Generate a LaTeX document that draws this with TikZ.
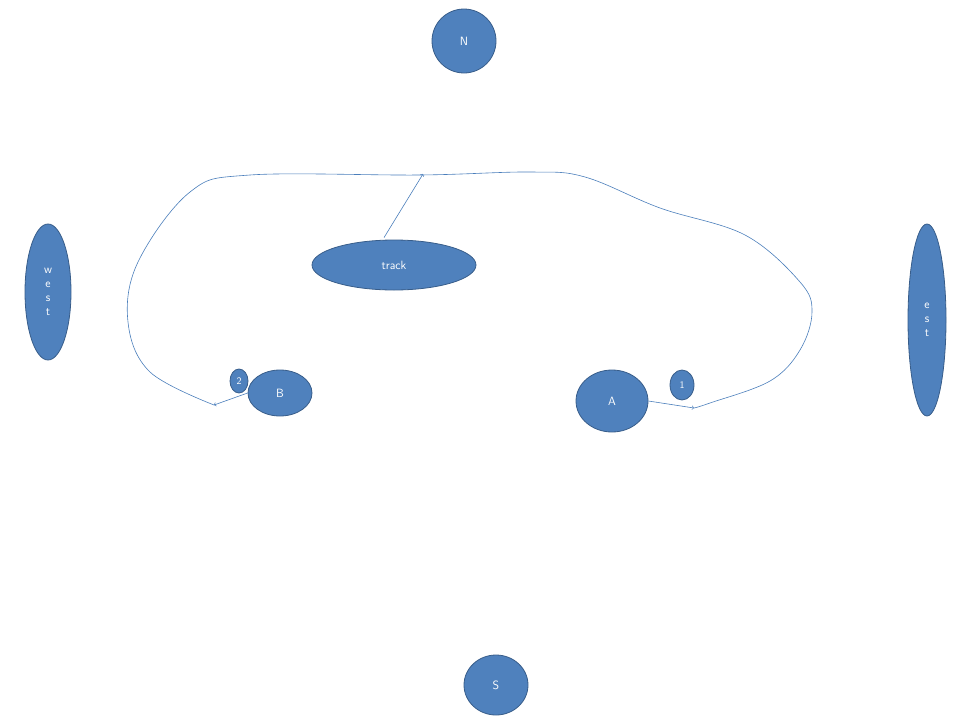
\documentclass[tikz,border=0pt]{standalone}
\usetikzlibrary{shapes.geometric,positioning}
\definecolor{bfill}{HTML}{4F81BD}
\definecolor{bdraw}{HTML}{385D8A}
\definecolor{pen}{HTML}{4A7EBB}
\begin{document}
\begin{tikzpicture}[x=1pt,y=-1pt]
    \tikzstyle{bnode} = [draw=bdraw, fill=bfill, thick, ellipse, inner sep=0pt, text=white, align=center, font=\sffamily\large]
    \tikzstyle{tnode} = [bnode, font=\sffamily\normalsize]
    \tikzstyle{pline} = [pen, semithick]
    \useasboundingbox (0,0) rectangle (960,720);
    % compass nodes
    \node[bnode, minimum width=64, minimum height=64] (north) at (464,41) {N};
    \node[bnode, minimum width=64, minimum height=60] (south) at (496,685) {S};
    \node[bnode, minimum width=46, minimum height=136] (west) at (48,292) {w\\e\\s\\t};
    \node[bnode, minimum width=38, minimum height=192] (east) at (927,320) {e\\s\\t};
    \node[bnode, minimum width=164, minimum height=50] (track) at (394,265) {track};
    % cars
    \node[bnode, minimum width=64, minimum height=46] (B) at (280,393) {B};
    \node[tnode, minimum width=18, minimum height=24] (two) at (239,381) {2};
    \node[bnode, minimum width=72, minimum height=62] (A) at (612,401) {A};
    \node[tnode, minimum width=24, minimum height=30] (one) at (682,385) {1};
    % hand drawn track
    \coordinate (a1) at (694,408);
    \coordinate (b1) at (214,405);
    \coordinate (t1) at (423,174);
    \draw[pline, ->] (A.east) -- (a1);
    \draw[pline, ->] (B.west) -- (b1);
    \draw[pline, ->] (track.north) ++(-10,-2) -- (t1);
    \draw[pline] plot[smooth, tension=0.6] coordinates {(a1) (710,403) (770,381) (800,350) (812,312) (800,282) (745,235) (660,208) (585,177) (530,172) (420,175) (250,175) (190,192) (138,262) (128,322) (150,372) (b1)};
\end{tikzpicture}
\end{document}
